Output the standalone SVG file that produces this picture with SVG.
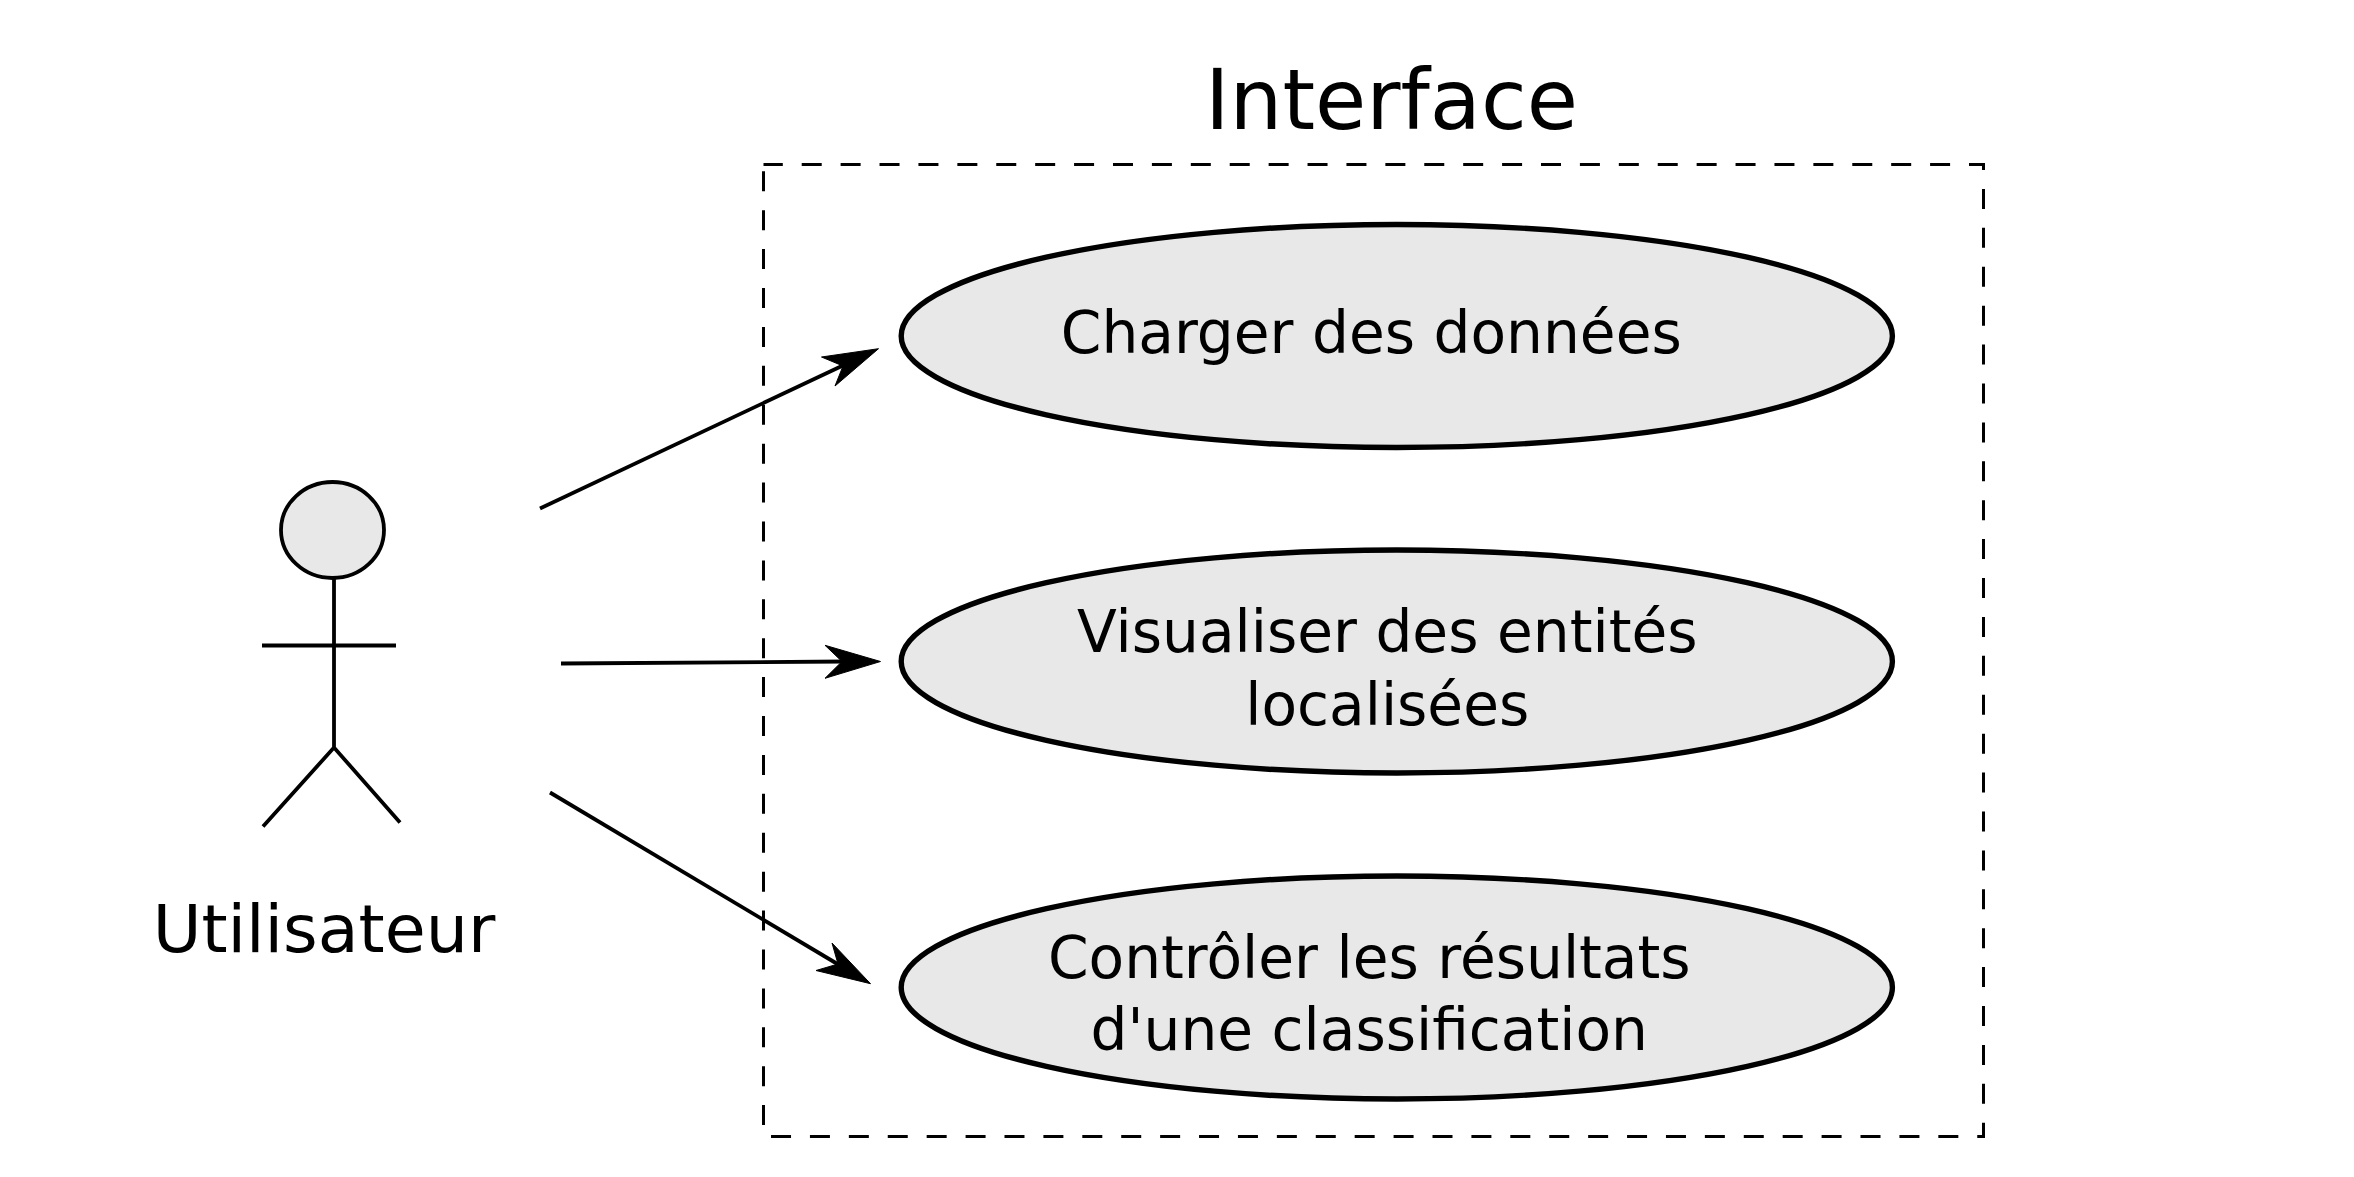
<svg xmlns="http://www.w3.org/2000/svg" width="2354" height="1177" viewBox="0 0 2354 1177">
<style>
text{font-family:"DejaVu Sans",sans-serif;fill:#000}
.uc{fill:#e8e8e8;stroke:#000;stroke-width:5.400}
.l{font-size:58.200px;text-anchor:middle}
.a{fill:none;stroke:#000;stroke-width:3.800}
.h{fill:#000;stroke:#000;stroke-width:1;stroke-linejoin:miter}
</style>
<rect width="2354" height="1177" fill="#fff"/>
<g id="boundary">
<rect x="763.500" y="164.500" width="1220" height="972" fill="none" stroke="#000" stroke-width="3" stroke-dasharray="20 18.910" stroke-dashoffset="0.700"/>
<text x="1391.500" y="129" font-size="83.300" text-anchor="middle">Interface</text>
</g>
<g id="actor">
<ellipse cx="332.500" cy="530" rx="51.500" ry="48" fill="#e8e8e8" stroke="#000" stroke-width="3.800"/>
<path class="a" d="M334 578.500V747.500M262 645.500H396M263 826.500L334 747.500L400 822.500"/>
<text x="324" y="952" font-size="66.600" text-anchor="middle">Utilisateur</text>
</g>
<g id="uc1">
<ellipse class="uc" cx="1396.800" cy="336" rx="495.600" ry="111.500"/>
<text class="l" x="1371.300" y="352.500">Charger des données</text>
</g>
<g id="uc2">
<ellipse class="uc" cx="1396.800" cy="661.500" rx="495.600" ry="111.500"/>
<text class="l" x="1387.300" y="652">Visualiser des entités</text>
<text class="l" x="1387.300" y="725">localisées</text>
</g>
<g id="uc3">
<ellipse class="uc" cx="1396.800" cy="987.500" rx="495.600" ry="111.500"/>
<text class="l" x="1369.300" y="978">Contrôler les résultats</text>
<text class="l" x="1369.300" y="1050">d'une classification</text>
</g>
<g id="connectors">
<path class="a" d="M540 508.500L845 364.500"/>
<polygon class="h" points="878.500,348.700 821.500,357 843,366 835,386"/>
<path class="a" d="M561 663.500L845 661.500"/>
<polygon class="h" points="880.500,661.500 825,645.300 842,661.500 825,678.300"/>
<path class="a" d="M550 792.500L840 965.500"/>
<polygon class="h" points="870.500,983.700 832,943 838,964 816,970.500"/>
</g>
</svg>
